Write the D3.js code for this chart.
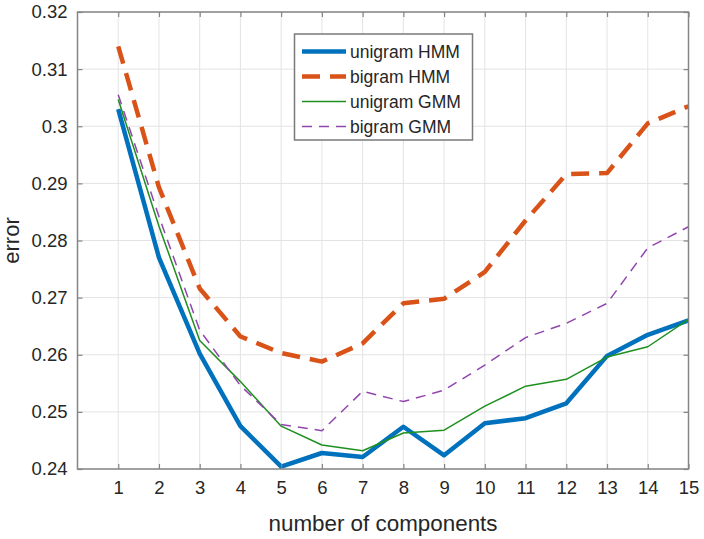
<!DOCTYPE html>
<html>
<head>
<meta charset="utf-8">
<script src="https://cdn.jsdelivr.net/npm/d3@7"></script>
<style>
  html, body { margin: 0; padding: 0; background: #fff; }
  svg { display: block; font-family: "Liberation Sans", Arial, Helvetica, sans-serif; }
</style>
</head>
<body>
<svg id="chart" width="704" height="539"></svg>
<script>
const components = [1, 2, 3, 4, 5, 6, 7, 8, 9, 10, 11, 12, 13, 14, 15];
const unigramHMM = [0.3030, 0.2770, 0.2602, 0.2475, 0.2404, 0.2428, 0.2421, 0.2474, 0.2424, 0.2480, 0.2489, 0.2515, 0.2598, 0.2635, 0.2660];
const bigramHMM  = [0.3140, 0.2893, 0.2716, 0.2632, 0.2603, 0.2588, 0.2620, 0.2690, 0.2698, 0.2745, 0.2835, 0.2916, 0.2918, 0.3005, 0.3035];
const unigramGMM = [0.3047, 0.2825, 0.2625, 0.2553, 0.2475, 0.2442, 0.2432, 0.2463, 0.2468, 0.2510, 0.2545, 0.2557, 0.2596, 0.2614, 0.2662];
const bigramGMM  = [0.3055, 0.2842, 0.2643, 0.2546, 0.2478, 0.2467, 0.2536, 0.2518, 0.2538, 0.2582, 0.2630, 0.2655, 0.2690, 0.2787, 0.2824];
const seriesNames = ["unigram HMM", "bigram HMM", "unigram GMM", "bigram GMM"];
const yTicks = [0.24, 0.25, 0.26, 0.27, 0.28, 0.29, 0.30, 0.31, 0.32];
const yTickLabels = ["0.24", "0.25", "0.26", "0.27", "0.28", "0.29", "0.3", "0.31", "0.32"];

const series = [
  { name: seriesNames[0], values: unigramHMM, color: "#0072BD", width: 4.5, dash: null },
  { name: seriesNames[1], values: bigramHMM,  color: "#D95319", width: 4.5, dash: "18,10" },
  { name: seriesNames[2], values: unigramGMM, color: "#1F8F1F", width: 1.5, dash: null },
  { name: seriesNames[3], values: bigramGMM,  color: "#9146AE", width: 1.5, dash: "10,7" }
];

const svg = d3.select("#chart");
const m = { left: 77.5, right: 15.5, top: 12, bottom: 70 };
const W = 704, H = 539;
const iw = W - m.left - m.right, ih = H - m.top - m.bottom;

const x = d3.scaleLinear().domain([0, 15]).range([m.left, m.left + iw]);
const y = d3.scaleLinear().domain([0.24, 0.32]).range([m.top + ih, m.top]);

const textColor = "#262626";
const axisColor = "#858585";
const gridColor = "#e3e3e3";

// grid
const g = svg.append("g");
g.selectAll(".vg").data(components).enter().append("line")
  .attr("x1", d => x(d)).attr("x2", d => x(d))
  .attr("y1", m.top).attr("y2", m.top + ih)
  .attr("stroke", gridColor).attr("stroke-width", 1);
g.selectAll(".hg").data(yTicks).enter().append("line")
  .attr("x1", m.left).attr("x2", m.left + iw)
  .attr("y1", d => y(d)).attr("y2", d => y(d))
  .attr("stroke", gridColor).attr("stroke-width", 1);

// lines
const line = d3.line().x((d, i) => x(components[i])).y(d => y(d));
series.forEach(s => {
  svg.append("path").datum(s.values)
    .attr("d", line)
    .attr("fill", "none")
    .attr("stroke", s.color)
    .attr("stroke-width", s.width)
    .attr("stroke-linejoin", "round")
    .attr("stroke-dasharray", s.dash);
});

// axes (inward ticks) with box
const tickLen = 5;
const xAxisB = d3.axisBottom(x).tickValues(components).tickSize(-tickLen).tickPadding(12).tickFormat(d3.format("d"));
const xAxisT = d3.axisTop(x).tickValues(components).tickSize(-tickLen).tickFormat("");
const yAxisL = d3.axisLeft(y).tickValues(yTicks).tickSize(-tickLen).tickPadding(10).tickFormat((d, i) => yTickLabels[i]);
const yAxisR = d3.axisRight(y).tickValues(yTicks).tickSize(-tickLen).tickFormat("");

function style(sel) {
  sel.selectAll("path.domain").attr("stroke", axisColor).attr("stroke-width", 1.5);
  sel.selectAll(".tick line").attr("stroke", axisColor).attr("stroke-width", 1.2);
  sel.selectAll(".tick text").attr("fill", textColor).attr("font-size", 18.5)
     .attr("font-family", "Liberation Sans, Arial, sans-serif");
}
svg.append("g").attr("transform", `translate(0,${m.top + ih})`).call(xAxisB).call(style);
svg.append("g").attr("transform", `translate(0,${m.top})`).call(xAxisT).call(style);
svg.append("g").attr("transform", `translate(${m.left},0)`).call(yAxisL).call(style);
svg.append("g").attr("transform", `translate(${m.left + iw},0)`).call(yAxisR).call(style);
svg.selectAll("path.domain").attr("d", null);
svg.append("rect").attr("x", m.left).attr("y", m.top).attr("width", iw).attr("height", ih)
  .attr("fill", "none").attr("stroke", axisColor).attr("stroke-width", 1.5);

// axis labels
svg.append("text").attr("x", m.left + iw / 2).attr("y", 531)
  .attr("text-anchor", "middle").attr("fill", textColor).attr("font-size", 22.4)
  .text("number of components");
svg.append("text").attr("transform", `translate(19,${m.top + ih / 2}) rotate(-90)`)
  .attr("text-anchor", "middle").attr("fill", textColor).attr("font-size", 22)
  .text("error");

// legend
const lg = svg.append("g");
lg.append("rect").attr("x", 294.5).attr("y", 34).attr("width", 178).attr("height", 106)
  .attr("fill", "#fff").attr("stroke", "#7a7a7a").attr("stroke-width", 1.5);
const rowY = [51.5, 76.5, 101.5, 126.5];
series.forEach((s, i) => {
  lg.append("line").attr("x1", 302).attr("x2", 346).attr("y1", rowY[i]).attr("y2", rowY[i])
    .attr("stroke", s.color).attr("stroke-width", s.width).attr("stroke-dasharray", s.dash);
  lg.append("text").attr("x", 350).attr("y", rowY[i]).attr("dy", "0.35em")
    .attr("fill", textColor).attr("font-size", 17.5).text(s.name);
});
</script>
</body>
</html>
